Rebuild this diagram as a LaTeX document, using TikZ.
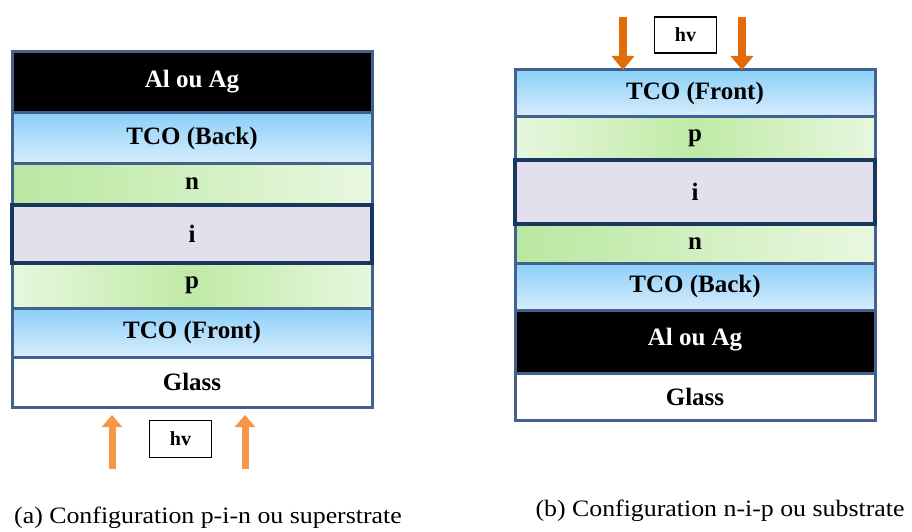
\documentclass[tikz,border=0pt]{standalone}
\usepackage{fontspec}
\setmainfont{Liberation Serif}
\newfontfamily\capfont[FakeStretch=1.1]{Liberation Serif}
\usetikzlibrary{arrows.meta,shadings}
\definecolor{edgeblue}{HTML}{41628F}
\definecolor{iedge}{HTML}{17375E}
\definecolor{ifill}{HTML}{E4DFEC}
\definecolor{tcotop}{HTML}{8BCFF9}
\definecolor{tcobot}{HTML}{D8EDFC}
\definecolor{nleft}{HTML}{B9E7A0}
\definecolor{nright}{HTML}{E9F8E0}
\definecolor{pmid}{HTML}{C0EAA6}
\definecolor{pside}{HTML}{E6F7DE}
\definecolor{orangeA}{HTML}{F79646}
\definecolor{orangeB}{HTML}{E36C0A}
\tikzset{
  layer/.style={rectangle, draw=edgeblue, line width=3pt, minimum width=360pt,
    inner sep=0pt, outer sep=0pt, anchor=north west,
    font=\fontsize{25}{25}\selectfont\bfseries},
  metal/.style={layer, fill=black, text=white},
  tco/.style={layer, top color=tcotop, bottom color=tcobot},
  nlay/.style={layer, left color=nleft, right color=nright},
  play/.style={layer, left color=pside, right color=pside, middle color=pmid},
  ilay/.style={layer, fill=ifill, draw=iedge, line width=3.5pt},
  glass/.style={layer, fill=white},
  hvbox/.style={rectangle, draw=black, line width=1.5pt, minimum width=62pt,
    inner sep=0pt, font=\fontsize{20}{20}\selectfont\bfseries},
  arrowA/.style={draw=orangeA, line width=7pt, -{Triangle[width=20pt,length=12pt]}},
  arrowB/.style={draw=orangeB, line width=8pt, -{Triangle[width=22pt,length=14pt]}},
  captxt/.style={font=\capfont\fontsize{23.5}{23.5}\selectfont, inner sep=0pt}
}
\begin{document}
\begin{tikzpicture}[x=1pt,y=-1pt]
\path[use as bounding box] (0,0) rectangle (912,532);
% ---- left stack (a) ----
\node[metal, minimum height=61pt] (aM) at (12,52) {\raisebox{8pt}{Al ou Ag}};
\node[tco, minimum height=50pt] (aTB) at (12,113) {TCO (Back)};
\node[nlay, minimum height=42pt] (aN) at (12,163) {n};
\node[play, minimum height=45pt] (aP) at (12,263) {\raisebox{3pt}{p}};
\node[tco, minimum height=49pt] (aTF) at (12,308) {TCO (Front)};
\node[glass, minimum height=50pt] (aG) at (12,357) {Glass};
\node[ilay, minimum height=58pt] (aI) at (12,205) {i};
% arrows and hv (a)
\coordinate (aA1) at (112,469);
\coordinate (aA2) at (245,469);
\draw[arrowA, shorten >=8pt] (aA1) -- (aA1 |- aG.south);
\draw[arrowA, shorten >=8pt] (aA2) -- (aA2 |- aG.south);
\node[hvbox, minimum height=37pt] (aHV) at (180.5,439) {\raisebox{-2pt}{hv}};
\node[captxt] (capA) at (208,518) {(a) Configuration p-i-n ou superstrate};
% ---- right stack (b) ----
\node[tco, minimum height=47pt] (bTF) at (515,70) {TCO (Front)};
\node[play, minimum height=43pt] (bP) at (515,117) {\raisebox{2pt}{p}};
\node[nlay, minimum height=39pt] (bN) at (515,224) {n};
\node[tco, minimum height=47pt] (bTB) at (515,263) {TCO (Back)};
\node[metal, minimum height=63pt] (bM) at (515,310) {\raisebox{10pt}{Al ou Ag}};
\node[glass, minimum height=47pt] (bG) at (515,373) {Glass};
\node[ilay, minimum height=64pt] (bI) at (515,160) {i};
% arrows and hv (b)
\coordinate (bA1) at (623,17);
\coordinate (bA2) at (742,17);
\draw[arrowB] (bA1) -- (bA1 |- bTF.north);
\draw[arrowB] (bA2) -- (bA2 |- bTF.north);
\node[hvbox, minimum height=36pt] (bHV) at (685.5,35) {\raisebox{-2pt}{hv}};
\node[captxt] (capB) at (720,511) {(b) Configuration n-i-p ou substrate};
\end{tikzpicture}
\end{document}
